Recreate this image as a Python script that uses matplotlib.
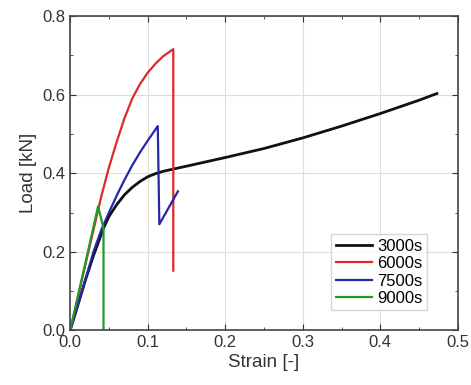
import matplotlib.pyplot as plt
import numpy as np

plt.rcParams['font.family'] = ['Liberation Sans', 'DejaVu Sans']

# 3000s
strain_3000 = [0, 0.01, 0.02, 0.03, 0.043, 0.05, 0.06, 0.07, 0.08, 0.09, 0.10, 0.11, 0.12,
               0.15, 0.20, 0.25, 0.30, 0.35, 0.40, 0.45, 0.473]
load_3000 = [0, 0.065, 0.13, 0.19, 0.26, 0.29, 0.32, 0.345, 0.364, 0.379, 0.391, 0.399, 0.405,
             0.418, 0.44, 0.463, 0.49, 0.52, 0.552, 0.586, 0.603]
# 6000s
strain_6000 = [0, 0.01, 0.02, 0.03, 0.04, 0.05, 0.06, 0.07, 0.08, 0.09, 0.10, 0.11, 0.12,
               0.133, 0.133]
load_6000 = [0, 0.085, 0.17, 0.255, 0.34, 0.415, 0.48, 0.54, 0.59, 0.627, 0.656, 0.679, 0.698,
             0.716, 0.152]
# 7500s
strain_7500 = [0, 0.01, 0.02, 0.03, 0.04, 0.05, 0.06, 0.07, 0.08, 0.09, 0.10, 0.113, 0.115, 0.139]
load_7500 = [0, 0.065, 0.132, 0.2, 0.255, 0.30, 0.343, 0.383, 0.42, 0.453, 0.483, 0.52, 0.27, 0.354]
# 9000s
strain_9000 = [0, 0.01, 0.02, 0.03, 0.036, 0.043, 0.043]
load_9000 = [0, 0.088, 0.175, 0.263, 0.316, 0.26, 0.0]

fig = plt.figure(figsize=(4.71, 3.85), dpi=100)
ax = fig.add_axes([0.149, 0.142, 0.823, 0.816])

ax.plot(strain_3000, load_3000, color='#111111', lw=2, label='3000s')
ax.plot(strain_6000, load_6000, color='#e0282c', lw=1.6, label='6000s')
ax.plot(strain_7500, load_7500, color='#2626a8', lw=1.6, label='7500s')
ax.plot(strain_9000, load_9000, color='#1f9a2a', lw=1.6, label='9000s')

ax.set_xlim(0, 0.5)
ax.set_ylim(0, 0.8)
ax.set_xticks(np.arange(0, 0.51, 0.1))
ax.set_yticks(np.arange(0, 0.81, 0.2))
ax.set_xticks(np.arange(0.05, 0.5, 0.1), minor=True)
ax.set_yticks(np.arange(0.1, 0.8, 0.2), minor=True)
ax.xaxis.set_major_formatter(plt.FormatStrFormatter('%.1f'))
ax.yaxis.set_major_formatter(plt.FormatStrFormatter('%.1f'))
ax.tick_params(which='both', direction='in', top=True, right=True, labelsize=12, colors='#333333')
ax.tick_params(which='major', length=4)
ax.tick_params(which='minor', length=2)
ax.grid(True, which='major', color='#dddddd', lw=0.8)
ax.set_axisbelow(True)
for s in ax.spines.values():
    s.set_color('#444444')
    s.set_linewidth(1.2)

ax.set_xlabel('Strain [-]', fontsize=13.5, color='#333333', labelpad=3)
ax.set_ylabel('Load [kN]', fontsize=13.5, color='#333333', labelpad=4)

leg = ax.legend(loc='lower right', bbox_to_anchor=(0.92, 0.064), fontsize=12, fancybox=False,
                handlelength=2.2, borderpad=0.25, labelspacing=0.15, handletextpad=0.3,
                borderaxespad=0)
leg.get_frame().set_edgecolor('#cccccc')

fig.savefig('out.png', dpi=100)
